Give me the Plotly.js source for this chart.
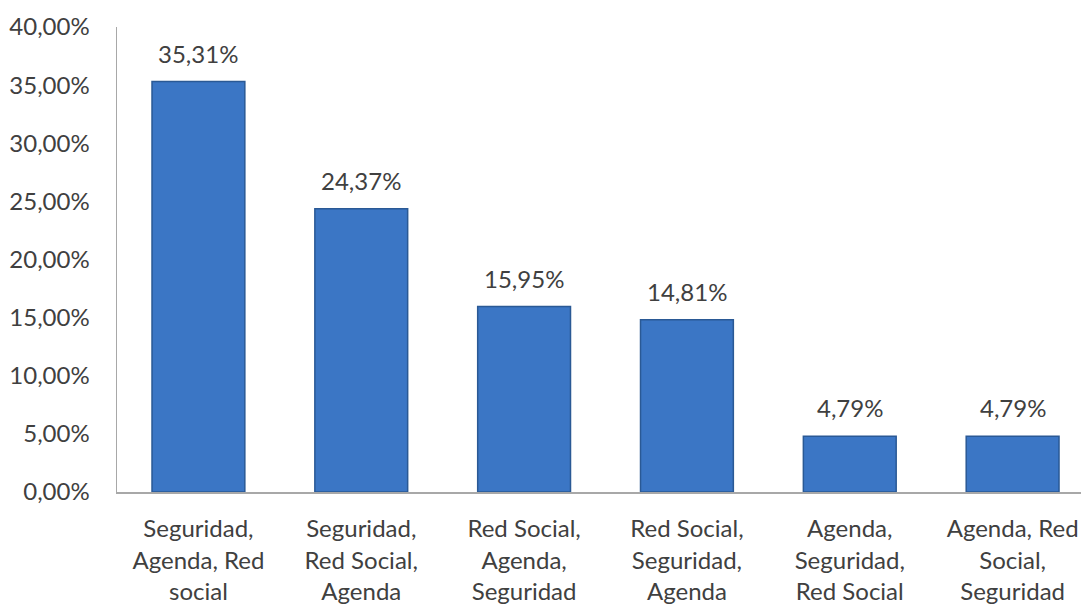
<!DOCTYPE html>
<html>
<head>
<meta charset="utf-8">
<script src="https://cdn.plot.ly/plotly-3.0.1.min.js"></script>
<style>html,body{margin:0;padding:0;background:#fff;}#chart{width:1081px;height:606px;}</style>
</head>
<body>
<div id="chart"></div>
<script>
const categories = [
  "Seguridad,<br>Agenda, Red<br>social",
  "Seguridad,<br>Red Social,<br>Agenda",
  "Red Social,<br>Agenda,<br>Seguridad",
  "Red Social,<br>Seguridad,<br>Agenda",
  "Agenda,<br>Seguridad,<br>Red Social",
  "Agenda, Red<br>Social,<br>Seguridad"
];
const values = [35.31, 24.37, 15.95, 14.81, 4.79, 4.79];
const yTicks = [0, 5, 10, 15, 20, 25, 30, 35, 40];

const fmt = v => v.toFixed(2).replace('.', ',') + '%';
const FONT = 'Lato, "Open Sans", sans-serif';
const TXT = '#404040';
const FS = 24;

const trace = {
  type: 'bar',
  x: categories,
  y: values,
  width: 0.57,
  marker: {color: '#3b76c5', line: {color: '#2a5995', width: 1.5}},
  hoverinfo: 'none'
};

const annotations = values.map((v, i) => ({
  x: categories[i], y: v, xref: 'x', yref: 'y',
  text: fmt(v), showarrow: false, yanchor: 'bottom', yshift: 12,
  font: {family: FONT, size: FS, color: TXT}
}));

const layout = {
  width: 1081, height: 606,
  margin: {l: 117, r: 0, t: 27, b: 114},
  paper_bgcolor: '#ffffff', plot_bgcolor: '#ffffff',
  showlegend: false,
  font: {family: FONT, size: FS, color: TXT},
  xaxis: {
    type: 'category', range: [-0.5, 5.42],
    showline: true, linecolor: '#a8a8a8', linewidth: 1.5,
    showgrid: false, zeroline: false, ticks: '',
    ticklabelstandoff: 15, tickangle: 0,
    tickfont: {family: FONT, size: FS, color: TXT}
  },
  yaxis: {
    range: [0, 40], tickmode: 'array', tickvals: yTicks, ticktext: yTicks.map(fmt),
    showline: true, linecolor: '#a8a8a8', linewidth: 1.5,
    showgrid: false, zeroline: false, ticks: '',
    ticklabelstandoff: 21,
    tickfont: {family: FONT, size: FS, color: TXT}
  },
  annotations: annotations
};

Plotly.newPlot('chart', [trace], layout, {displayModeBar: false, staticPlot: true});
</script>
</body>
</html>
